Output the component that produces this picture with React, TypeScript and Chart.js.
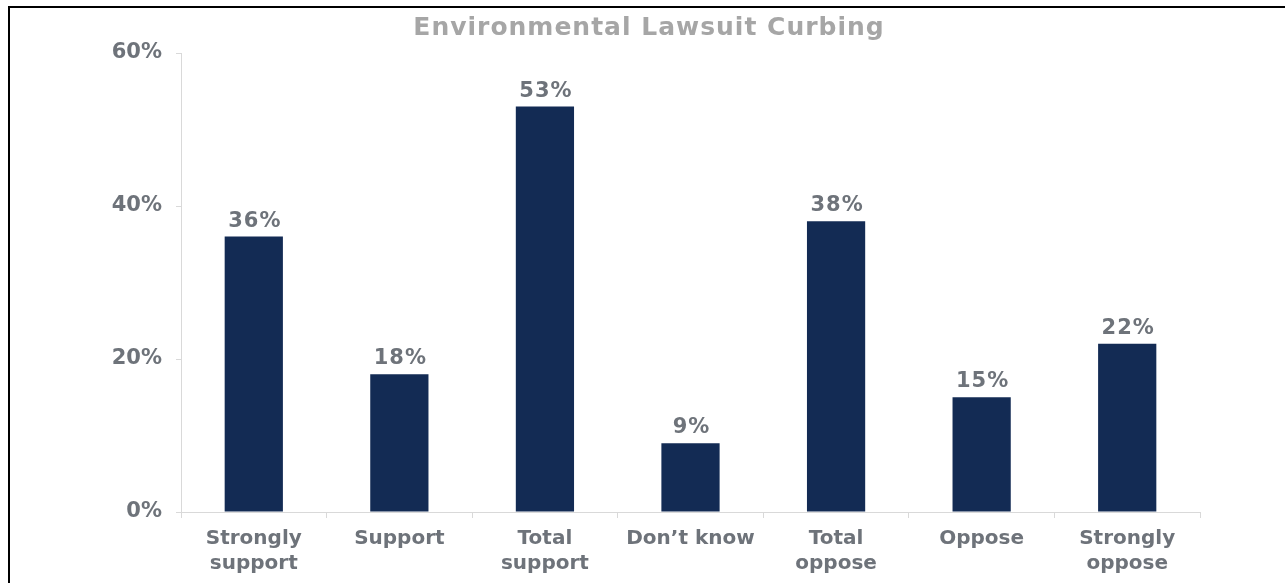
import React, { useEffect, useRef } from "react";
import { Chart, registerables } from "chart.js";

Chart.register(...registerables);

const categories: (string | string[])[] = [
  ["Strongly", "support"],
  "Support",
  ["Total", "support"],
  "Don’t know",
  ["Total", "oppose"],
  "Oppose",
  ["Strongly", "oppose"],
];
const values: number[] = [36, 18, 53, 9, 38, 15, 22];
const yTicks: number[] = [0, 20, 40, 60];
const titleText = "Environmental Lawsuit Curbing";

const FONT = "'DejaVu Sans', Verdana, sans-serif";
const GRAY = "#6e737a";
const BAR = "#132b54";
const AXIS = "#d9d9d9";

const valueLabels = {
  id: "valueLabels",
  afterDatasetsDraw(chart: any) {
    const ctx = chart.ctx;
    const meta = chart.getDatasetMeta(0);
    ctx.save();
    ctx.font = `bold 21px ${FONT}`;
    (ctx as any).letterSpacing = "1px";
    ctx.fillStyle = GRAY;
    ctx.textAlign = "center";
    ctx.textBaseline = "bottom";
    meta.data.forEach((bar: any, i: number) => {
      ctx.fillText(values[i] + "%", bar.x + 1, bar.y - 5);
    });
    ctx.restore();
  },
};

const titlePlugin = {
  id: "customTitle",
  afterDraw(chart: any) {
    const ctx = chart.ctx;
    ctx.save();
    ctx.font = `bold 25px ${FONT}`;
    (ctx as any).letterSpacing = "1px";
    ctx.fillStyle = "#a6a6a6";
    ctx.textAlign = "center";
    ctx.textBaseline = "middle";
    ctx.fillText(titleText, 649, 28);
    ctx.restore();
  },
};

export default function App() {
  const ref = useRef<HTMLCanvasElement>(null);
  useEffect(() => {
    if (!ref.current) return;
    const chart = new Chart(ref.current, {
      type: "bar",
      data: {
        labels: categories,
        datasets: [
          {
            data: values,
            backgroundColor: BAR,
            barPercentage: 0.4,
            categoryPercentage: 1,
          },
        ],
      },
      options: {
        animation: false,
        responsive: false,
        maintainAspectRatio: false,
        layout: { padding: { left: 0, right: 85, top: 53, bottom: 0 } },
        plugins: {
          legend: { display: false },
          tooltip: { enabled: false },
          title: { display: false },
        },
        scales: {
          x: {
            grid: {
              display: true,
              drawOnChartArea: false,
              drawTicks: true,
              tickLength: 6,
              color: AXIS,
              offset: true,
            },
            border: { color: AXIS, width: 1 },
            ticks: {
              color: GRAY,
              font: { family: FONT, size: 20, weight: "bold", lineHeight: 1.25 },
              padding: 8,
              maxRotation: 0,
              autoSkip: false,
            },
            afterFit(s: any) {
              s.height = 71;
            },
          },
          y: {
            min: 0,
            max: 60,
            afterBuildTicks(s: any) {
              s.ticks = yTicks.map((v) => ({ value: v }));
            },
            grid: {
              display: true,
              drawOnChartArea: false,
              drawTicks: true,
              tickLength: 5,
              color: AXIS,
            },
            border: { color: AXIS, width: 1 },
            ticks: {
              color: GRAY,
              font: { family: FONT, size: 21, weight: "bold" },
              padding: 14,
              callback: (v: any) => v + "%",
            },
            afterFit(s: any) {
              s.width = 181;
            },
          },
        },
      },
      plugins: [valueLabels, titlePlugin],
    });
    return () => chart.destroy();
  }, []);

  return (
    <div style={{ position: "absolute", left: 0, top: 0, width: 1285, height: 583, background: "#fff" }}>
      <canvas ref={ref} width={1285} height={583} style={{ position: "absolute", left: 0, top: 0 }} />
      <div
        style={{
          position: "absolute",
          left: 8,
          top: 6,
          width: 1285,
          height: 600,
          borderTop: "2px solid #000",
          borderLeft: "2px solid #000",
          pointerEvents: "none",
        }}
      />
    </div>
  );
}
